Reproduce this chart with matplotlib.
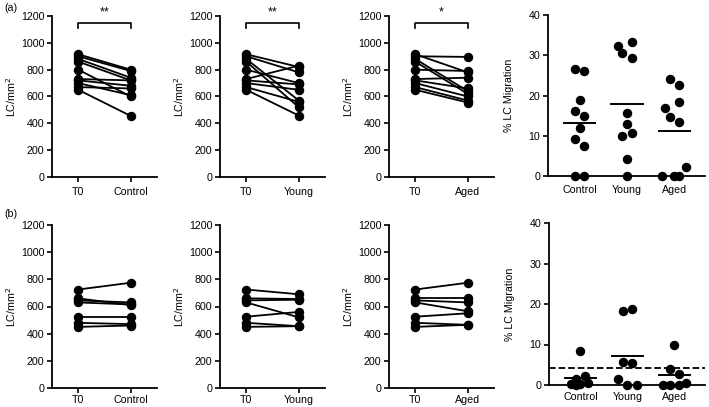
import matplotlib
matplotlib.use('Agg')
import matplotlib.pyplot as plt

# Paired LC densities (T0 -> treatment), top row (a), 10 donors
a_t0 = [915, 900, 880, 860, 800, 730, 720, 700, 670, 650]
a_control = [800, 790, 740, 720, 600, 720, 680, 610, 660, 455]
a_young = [820, 780, 570, 520, 700, 830, 690, 650, 560, 458]
a_aged = [780, 895, 640, 620, 790, 740, 660, 600, 570, 555]

# bottom row (b), 7 donors
b_t0 = [725, 660, 645, 630, 525, 480, 450]
b_control = [775, 610, 630, 615, 525, 470, 460]
b_young = [690, 655, 650, 520, 560, 455, 455]
b_aged = [775, 660, 630, 565, 550, 465, 465]

# % LC migration
groups = ['Control', 'Young', 'Aged']
a_mig = {
    'Control': [26.5, 26.0, 19.0, 16.2, 15.0, 12.0, 9.2, 7.5, 0.0, 0.0],
    'Young': [32.3, 33.3, 30.6, 29.2, 15.6, 13.0, 10.0, 10.6, 4.2, 0.0],
    'Aged': [24.0, 22.5, 18.4, 16.8, 14.7, 13.5, 2.2, 0.0, 0.0, 0.0],
}
a_mig_off = {
    'Control': [-0.1, 0.1, 0.0, -0.1, 0.1, 0.0, -0.1, 0.1, -0.1, 0.1],
    'Young': [-0.2, 0.1, -0.1, 0.1, 0.0, 0.0, -0.1, 0.1, 0.0, 0.0],
    'Aged': [-0.1, 0.1, 0.1, -0.2, -0.1, 0.1, 0.25, -0.25, 0.0, 0.1],
}
a_mean = [13.2, 17.9, 11.3]

b_mig = {
    'Control': [8.3, 1.5, 2.1, 0.2, 0.1, 0.2, 0.6],
    'Young': [18.2, 18.8, 5.6, 5.5, 1.5, 0.0, 0.0],
    'Aged': [9.9, 3.9, 2.8, 0.0, 0.0, 0.0, 0.5],
}
b_mig_off = {
    'Control': [0.0, -0.1, 0.1, -0.2, -0.1, 0.0, 0.17],
    'Young': [-0.1, 0.1, -0.1, 0.1, -0.2, 0.0, 0.2],
    'Aged': [0.0, -0.1, 0.1, -0.25, -0.1, 0.1, 0.25],
}
b_mean = [1.8, 7.1, 2.5]
b_threshold = 4.2

stars = ['**', '**', '*']

plt.rcParams['font.family'] = 'Liberation Sans'
fs = 7.7

W, H = 709, 407
fig = plt.figure(figsize=(W / 100, H / 100), dpi=100)


def style(ax, wpx, xpad):
    for s in ['top', 'right']:
        ax.spines[s].set_visible(False)
    for s in ['left', 'bottom']:
        ax.spines[s].set_linewidth(1.3)
    ax.tick_params(direction='out', length=3.5, width=1.2, labelsize=fs, pad=2)
    ax.tick_params(axis='x', pad=xpad)
    # y label right edge ~34 px left of the spine
    ax.yaxis.set_label_coords(-34 / wpx, 0.5)


def paired(rect, wpx, t0, post, name, star=None, xpad=3):
    ax = fig.add_axes(rect)
    for v0, v1 in zip(t0, post):
        ax.plot([0, 1], [v0, v1], color='black', linewidth=1.3,
                marker='o', markersize=5.8, clip_on=False)
    ax.set_xlim(-0.5, 1.5)
    ax.set_ylim(0, 1200)
    ax.set_yticks(range(0, 1201, 200))
    ax.set_xticks([0, 1])
    ax.set_xticklabels(['T0', name])
    ax.set_ylabel('LC/mm$^2$', fontsize=fs)
    style(ax, wpx, xpad)
    if star:
        ax.plot([0, 0, 1, 1], [1110, 1145, 1145, 1110], color='black',
                linewidth=1.2, clip_on=False)
        ax.text(0.5, 1185, star, ha='center', va='bottom', fontsize=9)
    return ax


def scatter(rect, wpx, vals, offs, means, thr=None, xpad=3):
    ax = fig.add_axes(rect)
    for i, g in enumerate(groups):
        xs = [i + o for o in offs[g]]
        ax.plot(xs, vals[g], linestyle='none', marker='o', color='black',
                markersize=5.8, clip_on=False)
        ax.plot([i - 0.33, i + 0.33], [means[i], means[i]], color='black',
                linewidth=1.4)
    if thr is not None:
        ax.axhline(thr, color='black', linestyle='--', linewidth=1.3)
    ax.set_xlim(-0.67, 2.65)
    ax.set_ylim(0, 40)
    ax.set_yticks(range(0, 41, 10))
    ax.set_xticks(range(3))
    ax.set_xticklabels(groups)
    ax.set_ylabel('% LC Migration', fontsize=fs)
    style(ax, wpx, xpad)
    ax.tick_params(axis='x', length=2.5)
    return ax


xs_left = [52, 220, 389]
wid = 105
post_a = [a_control, a_young, a_aged]
post_b = [b_control, b_young, b_aged]
for k in range(3):
    paired([xs_left[k] / W, 1 - 177 / H, wid / W, 161 / H], wid,
           a_t0, post_a[k], groups[k], stars[k], xpad=4)
    paired([xs_left[k] / W, 1 - 388 / H, wid / W, 163 / H], wid,
           b_t0, post_b[k], groups[k], xpad=1.5)

scatter([548 / W, 1 - 176 / H, 157 / W, 161 / H], 157,
        a_mig, a_mig_off, a_mean, xpad=4)
scatter([549 / W, 1 - 385 / H, 156 / W, 162 / H], 156,
        b_mig, b_mig_off, b_mean, b_threshold, xpad=2.5)

fig.text(4 / W, 1 - 8 / H, '(a)', fontsize=fs, va='center')
fig.text(4 / W, 1 - 214 / H, '(b)', fontsize=fs, va='center')

fig.savefig('out.png', dpi=100)
